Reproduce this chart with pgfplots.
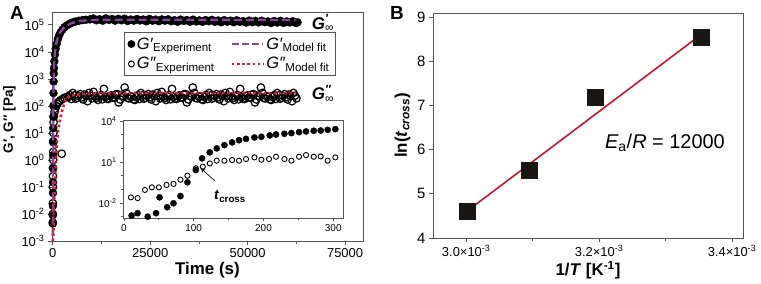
\documentclass[border=0pt]{standalone}
\usepackage{pgfplots}
\pgfplotsset{compat=1.18}
\usepackage{fontspec}
\setmainfont{Liberation Sans}
\usetikzlibrary{arrows.meta}
\definecolor{fitpurple}{RGB}{140,70,160}
\definecolor{fitred}{RGB}{220,25,45}
\definecolor{frame}{RGB}{85,85,85}
\definecolor{sqblack}{RGB}{25,22,20}
\newcommand{\fs}[1]{\fontsize{#1}{#1}\selectfont}
\pgfplotsset{
  myaxis/.style={
    scale only axis, anchor=south west,
    axis line style={frame, line width=0.9pt},
    every tick/.style={frame, line width=0.8pt},
    tick align=outside, xtick pos=left, ytick pos=left,
    major tick length=4bp, minor tick length=2.5bp,
    /pgf/number format/assume math mode=true,
    clip marker paths=true,
  },
  gppstyle/.style={only marks, mark=o, mark size=3.8pt, black, line width=1.2pt, mark options={fill=white}, forget plot},
}
\begin{document}
\begin{tikzpicture}
\path[use as bounding box] (0,0) rectangle (761bp,284bp);

% ---------------- Panel A main ----------------
\begin{axis}[myaxis,
  at={(52bp,43bp)}, width=311bp, height=229bp,
  xmin=-200, xmax=79600, ymode=log, ymin=1e-3, ymax=3e5,
  scaled x ticks=false,
  xtick={0,25000,50000,75000}, xticklabels={0,25000,50000,75000},
  minor xtick={12500,37500,62500},
  ytick={1e-3,1e-2,1e-1,1,10,100,1000,1e4,1e5},
  yticklabels={10\textsuperscript{-3},10\textsuperscript{-2},10\textsuperscript{-1},10\textsuperscript{0},10\textsuperscript{1},10\textsuperscript{2},10\textsuperscript{3},10\textsuperscript{4},10\textsuperscript{5}},
  yminorticks=false,
  tick label style={font=\fs{13}},
  xlabel={Time (s)}, xlabel style={font=\fs{17}\bfseries, yshift=2bp},
  ylabel={G′, G″ [Pa]}, ylabel style={font=\fs{13.5}\bfseries, at={(ticklabel cs:0.53)}, yshift=-1bp},
  clip=false,
  legend columns=2,
  legend image code/.code={\draw[mark repeat=2,mark phase=2] plot coordinates {(0cm,0cm) (0.55cm,0cm) (1.1cm,0cm)};},
  legend style={at={(0.230,0.912)}, anchor=north west, draw=frame, line width=0.8pt,
    font=\fs{16.5}, inner xsep=4pt, inner ysep=3pt, row sep=3pt,
    /tikz/every even column/.append style={column sep=14pt}},
  legend cell align=left,
]
% G' experiment
\addplot[only marks, mark=*, mark size=4pt, black, forget plot] coordinates {
(0,5e-3)(15,9e-3)(30,2e-2)(45,6e-2)(60,0.15)(75,0.5)(90,1.5)(105,5)(120,15)(140,40)(160,100)(190,300)(220,800)(260,1600)(300,2500)(400,4500)(550,8000)(750,1.3e4)(1000,2.0e4)(1300,3.0e4)(1600,4.0e4)(2000,5.3e4)(2500,6.8e4)(3000,8.2e4)(3600,9.6e4)(4300,1.1e5)(5000,1.22e5)(5800,1.33e5)(6700,1.42e5)(7600,1.5e5)(8500,1.55e5)(9500,1.6e5)
(10400,1.73e5)(11200,1.48e5)(12000,1.62e5)(12800,1.43e5)(13600,1.74e5)(14400,1.53e5)(15200,1.65e5)(16000,1.44e5)(16800,1.67e5)(17600,1.48e5)(18400,1.69e5)(19200,1.40e5)(20000,1.58e5)(20800,1.44e5)(21600,1.65e5)(22400,1.46e5)(23200,1.58e5)(24000,1.36e5)(24800,1.66e5)(25600,1.43e5)(26400,1.57e5)(27200,1.37e5)(28000,1.59e5)(28800,1.43e5)(29600,1.61e5)(30400,1.37e5)(31200,1.49e5)(32000,1.31e5)(32800,1.57e5)(33600,1.39e5)(34400,1.51e5)(35200,1.31e5)(36000,1.56e5)(36800,1.34e5)(37600,1.46e5)(38400,1.30e5)(39200,1.51e5)(40000,1.36e5)(40800,1.54e5)(41600,1.30e5)(42400,1.45e5)(43200,1.25e5)(44000,1.49e5)(44800,1.31e5)(45600,1.44e5)(46400,1.25e5)(47200,1.48e5)(48000,1.30e5)(48800,1.37e5)(49600,1.22e5)(50400,1.44e5)(51200,1.25e5)(52000,1.41e5)(52800,1.23e5)(53600,1.43e5)(54400,1.26e5)(55200,1.34e5)(56000,1.17e5)(56800,1.39e5)(57600,1.22e5)(58400,1.41e5)(59200,1.18e5)(60000,1.34e5)(60800,1.23e5)(61600,1.36e5)(62400,1.17e5)(62800,1.25e5)
};
% G'' experiment
\addplot[gppstyle] coordinates {
(0,4.5e-3)(10,1e-2)(25,2.5e-2)(40,0.1)(55,0.25)(70,0.5)(85,1)(100,2)(130,4.5)(170,10)(220,25)(300,40)(450,60)(650,80)(900,100)(1200,120)(1500,140)(1900,160)(2300,1.7)(2500,180)(3000,200)(3500,210)
(4000,214)(4760,181)(5520,245)(6280,200)(7040,274)(7800,174)(8560,229)(9320,302)(10080,191)(10840,220)(11600,167)(12360,252)(13120,427)(13880,186)(14640,232)(15400,208)(16160,263)(16920,135)(17680,239)(18440,479)(19200,197)(19960,223)(20720,176)(21480,214)(22240,181)(23000,245)(23760,200)(24520,274)(25280,174)(26040,229)(26800,302)(27560,191)(28320,220)(29080,167)(29840,252)(30600,427)(31360,186)(32120,232)(32880,208)(33640,263)(34400,135)(35160,239)(35920,479)(36680,197)(37440,223)(38200,176)(38960,214)(39720,181)(40480,245)(41240,200)(42000,274)(42760,174)(43520,229)(44280,302)(45040,191)(45800,220)(46560,167)(47320,252)(48080,427)(48840,186)(49600,232)(50360,208)(51120,263)(51880,135)(52640,239)(53400,479)(54160,197)(54920,223)(55680,176)(56440,214)(57200,181)(57960,245)(58720,200)(59480,274)(60240,174)(61000,229)(61760,302)(62520,191)
};
\addplot[gppstyle] coordinates {
(4380,252)(5140,300)(5900,186)(6660,232)(7420,208)(8180,263)(8940,150)(9700,239)(10460,330)(11220,197)(11980,223)(12740,176)(13500,214)(14260,181)(15020,245)(15780,200)(16540,274)(17300,174)(18060,229)(18820,302)(19580,191)(20340,220)(21100,167)(21860,252)(22620,300)(23380,186)(24140,232)(24900,208)(25660,263)(26420,150)(27180,239)(27940,330)(28700,197)(29460,223)(30220,176)(30980,214)(31740,181)(32500,245)(33260,200)(34020,274)(34780,174)(35540,229)(36300,302)(37060,191)(37820,220)(38580,167)(39340,252)(40100,300)(40860,186)(41620,232)(42380,208)(43140,263)(43900,150)(44660,239)(45420,330)(46180,197)(46940,223)(47700,176)(48460,214)(49220,181)(49980,245)(50740,200)(51500,274)(52260,174)(53020,229)(53780,302)(54540,191)(55300,220)(56060,167)(56820,252)(57580,300)(58340,186)(59100,232)(59860,208)(60620,263)(61380,150)(62140,239)
};
% G' model fit
\addplot[fitpurple, line width=2.3pt, dash pattern=on 8pt off 4pt, forget plot] coordinates {
(0,1.5e-3)(40,1e-2)(80,0.3)(120,10)(160,150)(200,700)(300,2500)(450,6000)(600,1.1e4)(800,1.7e4)(1000,2.4e4)(1400,3.8e4)(2000,5.5e4)(2700,7.5e4)(3500,9.3e4)(4500,1.1e5)(5500,1.25e5)(7000,1.38e5)(8700,1.48e5)(11000,1.53e5)(15000,1.55e5)(62300,1.52e5)
};
% G'' model fit
\addplot[fitred, line width=2.6pt, dash pattern=on 2.6pt off 2.6pt, forget plot] coordinates {
(0,1e-3)(150,1.9e-3)(330,1.8e-2)(590,0.18)(800,1.0)(1020,4.1)(1400,13)(1860,30)(2200,52)(2700,93)(3100,145)(3570,190)(4300,228)(5250,250)(7700,275)(12000,295)(62300,300)
};
\addlegendimage{only marks, mark=*, mark size=3.5pt, black}
\addlegendentry{\textit{G′}\textsubscript{Experiment}}
\addlegendimage{fitpurple, line width=2.3pt, dash pattern=on 7pt off 3pt}
\addlegendentry{\textit{G′}\textsubscript{Model fit}}
\addlegendimage{only marks, mark=o, mark size=3pt, black, line width=1pt}
\addlegendentry{\textit{G″}\textsubscript{Experiment}}
\addlegendimage{fitred, line width=2.6pt, dash pattern=on 2.6pt off 2.6pt}
\addlegendentry{\textit{G″}\textsubscript{Model fit}}
\node[anchor=west, font=\fs{17}\bfseries\itshape] at (axis cs:65600,1.15e5) {G\rlap{\textsuperscript{′}}\textsubscript{\normalfont\mdseries\upshape ∞}};
\node[anchor=west, font=\fs{17}\bfseries\itshape] at (axis cs:65600,280) {G\rlap{\textsuperscript{″}}\textsubscript{\normalfont\mdseries\upshape ∞}};
\end{axis}

% ---------------- Inset ----------------
\begin{axis}[myaxis,
  at={(123bp,66bp)}, width=220bp, height=98bp,
  xmin=-1.4, xmax=314, ymode=log, ymin=8e-4, ymax=1.2e4,
  xtick={0,100,200,300}, minor xtick={50,150,250},
  ytick={1e-2,10,1e4}, yticklabels={10\textsuperscript{-2},10\textsuperscript{1},10\textsuperscript{4}},
  minor ytick={1e-3,0.1,1,100,1000},
  tick label style={font=\fs{10}},
  major tick length=3bp, minor tick length=2bp,
  axis background/.style={fill=white},
  clip=false,
]
\addplot[only marks, mark=o, mark size=2.6pt, black, line width=0.9pt, mark options={fill=white}] coordinates {
(10,2.6e-2)(19.5,2.3e-2)(30,9.1e-2)(40,0.14)(50,0.14)(61,0.21)(71,0.25)(81,0.51)(91,1.0)(103,3.5)(113,4.6)(123,7.9)(133,12.6)(144,12.6)(155,14.1)(165,12.6)(175,16.6)(187,21.9)(197,14.8)(208,16.6)(218,24.5)(230,16.6)(240,12.6)(251,24.5)(261,32.4)(272,24.5)(282,25.7)(292,12.6)(303,21.9)
};
\addplot[only marks, mark=*, mark size=3.1pt, black] coordinates {
(11,1.2e-3)(19.5,1.8e-3)(34,1.0e-3)(46,1.8e-3)(51,2.6e-2)(62,4.9e-3)(71,9.5e-3)(81,3.2e-2)(91,0.33)(103,2.6)(112,18.6)(123,51)(133,100)(144,174)(155,275)(165,398)(175,500)(187,631)(197,708)(209,891)(218,1047)(230,1175)(240,1318)(251,1549)(261,1738)(272,1950)(282,2042)(292,2291)(303,2570)
};
\draw[-{Stealth[length=5bp,width=4bp]}, line width=0.7pt] (axis cs:130,0.43) -- (axis cs:110,3.6);
\node[font=\fs{14}\bfseries] at (axis cs:152,0.03) {\textit{t}\textsubscript{cross}};
\end{axis}

% ---------------- Panel B ----------------
\begin{axis}[myaxis,
  at={(433bp,46bp)}, width=310bp, height=225bp,
  xmin=2.950e-3, xmax=3.4165e-3, ymin=4, ymax=9.1,
  xtick={3.0e-3,3.2e-3,3.4e-3},
  xticklabels={3.0×10\textsuperscript{-3},3.2×10\textsuperscript{-3},3.4×10\textsuperscript{-3}},
  minor xtick={3.1e-3,3.3e-3},
  ytick={4,5,6,7,8,9},
  scaled x ticks=false,
  xticklabel style={font=\fs{13}},
  yticklabel style={font=\fs{15}},
  xlabel={1/\textit{T} [K\textsuperscript{-1}]}, xlabel style={font=\fs{17}\bfseries, yshift=2bp},
  ylabel={ln(\textit{t}\textsubscript{\textit{cross}})}, ylabel style={font=\fs{17}\bfseries},
  clip=false,
]
\addplot[fitred!90!black, line width=1.6pt] coordinates {(3.0135e-3,4.75) (3.349e-3,8.56)};
\addplot[only marks, mark=square*, mark size=8pt, sqblack] coordinates {
(3.0017e-3,4.60) (3.0945e-3,5.53) (3.1934e-3,7.20) (3.3540e-3,8.56)
};
\node[font=\fs{20}] at (rel axis cs:0.748,0.422) {\textit{E}\textsubscript{a}/\textit{R} = 12000};
\end{axis}

\node[font=\fs{19}\bfseries] at (17bp,271bp) {A};
\node[font=\fs{19}\bfseries] at (397bp,271bp) {B};
\end{tikzpicture}
\end{document}
